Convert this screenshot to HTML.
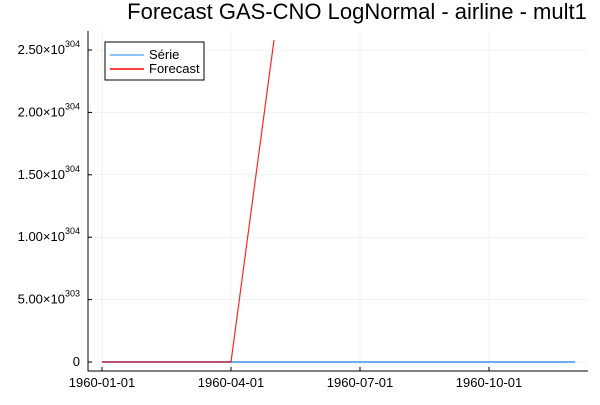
<!DOCTYPE html>
<html><head><meta charset="utf-8"><style>
body{margin:0;background:#fff;font-family:"Liberation Sans","DejaVu Sans",sans-serif}
svg text{font-family:"Liberation Sans","DejaVu Sans",sans-serif}
</style></head><body>
<svg id="c" width="600" height="400" xmlns="http://www.w3.org/2000/svg">
<rect width="600" height="400" fill="#fff"/>
<text x="357" y="19" font-size="22" text-anchor="middle" fill="#000">Forecast GAS-CNO LogNormal - airline - mult1</text>
<g id="grid"></g><g id="axes"></g><g id="marks"></g>
<g>
<rect x="105" y="42" width="99" height="38" fill="#fff" stroke="#000" stroke-width="1"/>
<line x1="110" y1="55" x2="144" y2="55" stroke="#6aaff0" stroke-width="1.5"/>
<text x="149" y="59" font-size="13">Série</text>
<line x1="110" y1="69" x2="144" y2="69" stroke="#ff0000" stroke-width="1.5"/>
<text x="149" y="73" font-size="13">Forecast</text>
</g>
</svg>
<script>
// values in units of 1e303; x as month index in 1960 (0 = Jan)
const serieMonths=[0,1,2,3,4,5,6,7,8,9,10,11];
const serieVals=[0,0,0,0,0,0,0,0,0,0,0,0];
const fcMonths=[0,1,2,3,4];
const fcVals=[0,0,0,0,25.8];
const xTickMonths=[0,3,6,9];
const xTickLabels=["1960-01-01","1960-04-01","1960-07-01","1960-10-01"];
const yTickVals=[0,5,10,15,20,25];
const yTickLabels=["0","5.00×10<tspan dy='-7' font-size='9'>303</tspan>","1.00×10<tspan dy='-7' font-size='9'>304</tspan>","1.50×10<tspan dy='-7' font-size='9'>304</tspan>","2.00×10<tspan dy='-7' font-size='9'>304</tspan>","2.50×10<tspan dy='-7' font-size='9'>304</tspan>"];
const L=88,R=588,T=31,B=371;
const xs=m=>102+m*43;
const ys=v=>362-v*12.48;
const NS="http://www.w3.org/2000/svg";
function mk(tag,attrs,parent){const e=document.createElementNS(NS,tag);for(const k in attrs)e.setAttribute(k,attrs[k]);document.getElementById(parent).appendChild(e);return e;}
xTickMonths.forEach((d,i)=>{
 const g=mk('line',{x1:xs(d),x2:xs(d),y1:T,y2:B,stroke:'#000','stroke-opacity':0.1,'stroke-width':0.5},'grid');
 
 
 const t=mk('line',{x1:xs(d),x2:xs(d),y1:B,y2:B-4,stroke:'#000'},'axes');
 
 
 const l=mk('text',{x:xs(d),y:B+16,'font-size':13,'text-anchor':'middle'},'axes');
 l.textContent=xTickLabels[i];
 
 
});
yTickVals.forEach((v,i)=>{
 const g=mk('line',{x1:L,x2:R,y1:ys(v),y2:ys(v),stroke:'#000','stroke-opacity':0.1,'stroke-width':0.5},'grid');
 
 
 const t=mk('line',{x1:L,x2:L+4,y1:ys(v),y2:ys(v),stroke:'#000'},'axes');
 
 
 const l=mk('text',{x:80,y:ys(v)+4,'font-size':13,'text-anchor':'end'},'axes');
 l.innerHTML=yTickLabels[i];
 
 
});
const ax=mk('path',{d:`M${L},${T}V${B}H${R}`,fill:'none',stroke:'#000','stroke-width':1},'axes');


const s=mk('polyline',{points:serieMonths.map((d,i)=>xs(d)+','+ys(serieVals[i])).join(' '),fill:'none',stroke:'#6aaff0','stroke-width':2},'marks');


const f=mk('polyline',{points:fcMonths.map((d,i)=>xs(d)+','+ys(fcVals[i])).join(' '),fill:'none',stroke:'#ff0000','stroke-width':1.2,'stroke-opacity':0.85},'marks');


</script>
</body></html>
